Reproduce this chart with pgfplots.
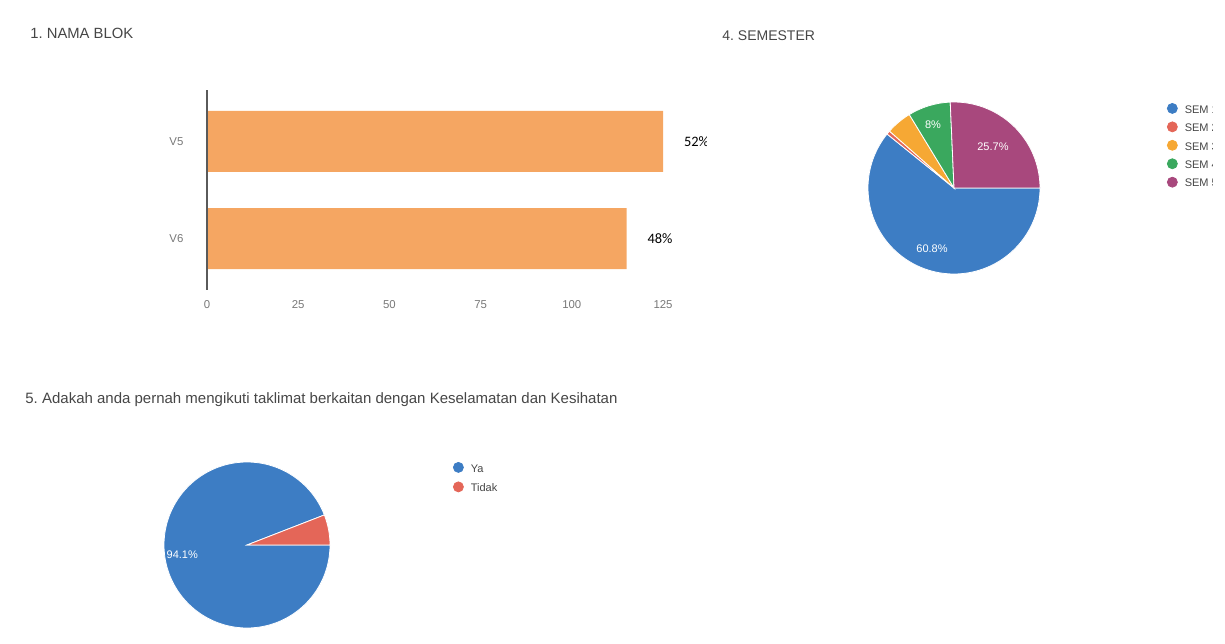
\documentclass[border=0pt]{standalone}
\usepackage{pgfplots}
\pgfplotsset{compat=1.18}
\usepackage{fontspec}
\setmainfont{Liberation Sans}
\newfontfamily\calibri{Carlito}
\frenchspacing

\definecolor{barorange}{RGB}{245,166,98}
\definecolor{pieblue}{RGB}{61,125,196}
\definecolor{piered}{RGB}{228,102,88}
\definecolor{pieorange}{RGB}{246,168,52}
\definecolor{piegreen}{RGB}{58,168,94}
\definecolor{piepurple}{RGB}{168,72,125}
\definecolor{titlegray}{RGB}{70,70,70}
\definecolor{tickgray}{RGB}{120,120,120}
\definecolor{axisgray}{RGB}{90,90,90}

\pgfplotsset{
  pielegend/.style={
    legend image code/.code={\fill (0pt,1.2pt) circle (2.5pt); \path (6pt,0pt);},
    legend style={draw=none, fill=none, inner sep=0pt, outer sep=0pt,
      row sep=2.65pt, font=\fontsize{5.5}{6}\selectfont,
      nodes={inner sep=0pt, text=titlegray}},
    legend cell align=left,
  },
  pieaxis/.style={
    hide axis, scale only axis, clip=false,
    xmin=-1, xmax=1, ymin=-1, ymax=1,
  },
}

\begin{document}
\begin{tikzpicture}
\path[use as bounding box] (0,0) rectangle (612.5pt,321.5pt);

% ---- 1. NAMA BLOK ----
\begin{scope}
\clip (0,0) rectangle (353pt,321.5pt);
\node[anchor=base west, inner sep=0pt, text=titlegray, font=\fontsize{7.4}{9}\selectfont]
  at (15pt,302pt) {1. NAMA BLOK};
\begin{axis}[
  at={(103.5pt,176.5pt)}, anchor=south west,
  width=228pt, height=100pt, scale only axis,
  xbar, bar width=30.5pt,
  xmin=0, xmax=125, ymin=-1.026, ymax=1.026,
  xtick={0,25,50,75,100,125},
  ytick={-0.5,0.5}, yticklabels={V6,V5},
  axis line style={draw=none}, tick style={draw=none},
  ticklabel style={font=\fontsize{5.7}{6}\selectfont, text=tickgray},
  xticklabel style={yshift=-1.8pt},
  yticklabel style={xshift=-4pt},
  /pgf/number format/assume math mode=true,
  clip=false,
  nodes near coords, point meta=explicit symbolic,
  nodes near coords style={font=\calibri\fontsize{7.2}{8}\selectfont, text=black,
    anchor=west, xshift=7pt},
]
\addplot[fill=barorange, draw=none] coordinates {(125,0.5) [52\%] (115,-0.5) [48\%]};
\draw[axisgray, line width=0.6pt] (axis cs:0,-1.026) -- (axis cs:0,1.026);
\end{axis}
\end{scope}

% ---- 4. SEMESTER ----
\node[anchor=base west, inner sep=0pt, text=titlegray, font=\fontsize{7}{9}\selectfont]
  at (361pt,301pt) {4. SEMESTER};
\begin{scope}
\clip (0,0) rectangle (606pt,321.5pt);
\begin{axis}[
  pieaxis, at={(477pt,227.5pt)}, anchor=center,
  width=86pt, height=86pt,
  pielegend,
  legend style={at={(axis description cs:1.738,0.994)}, anchor=north west},
]
\addlegendimage{pieblue}\addlegendentry{SEM 1}
\addlegendimage{piered}\addlegendentry{SEM 2}
\addlegendimage{pieorange}\addlegendentry{SEM 3}
\addlegendimage{piegreen}\addlegendentry{SEM 4}
\addlegendimage{piepurple}\addlegendentry{SEM 5}
\gdef\cum{0}
\foreach \v/\c in {60.8/pieblue, 0.7/piered, 4.8/pieorange, 8/piegreen, 25.7/piepurple}{
  \pgfmathsetmacro\a{-\cum*3.6}
  \pgfmathsetmacro\b{-(\cum+\v)*3.6}
  \edef\slice{\noexpand\fill[\c, draw=white, line width=0.4pt] (axis cs:0,0) -- ++(\a:43pt)
    arc[start angle=\a, end angle=\b, radius=43pt] -- cycle;}
  \slice
  \pgfmathsetmacro\n{\cum+\v}\xdef\cum{\n}
}
\node[text=white, font=\fontsize{5.5}{6}\selectfont] at (axis cs:-0.256,-0.709) {60.8\%};
\node[text=white, font=\fontsize{5.5}{6}\selectfont] at (axis cs:-0.244,0.733) {8\%};
\node[text=white, font=\fontsize{5.5}{6}\selectfont] at (axis cs:0.453,0.477) {25.7\%};
\end{axis}
\end{scope}

% ---- 5. Taklimat ----
\node[anchor=base west, inner sep=0pt, text=titlegray, font=\fontsize{7.5}{9}\selectfont]
  at (12.5pt,120pt) {5. Adakah anda pernah mengikuti taklimat berkaitan dengan Keselamatan dan Kesihatan};
\begin{axis}[
  pieaxis, at={(123.5pt,49pt)}, anchor=center,
  width=83pt, height=83pt,
  pielegend,
  legend style={at={(axis description cs:1.741,1.0)}, anchor=north west, row sep=3.2pt},
]
\addlegendimage{pieblue}\addlegendentry{Ya}
\addlegendimage{piered}\addlegendentry{Tidak}
\gdef\cum{0}
\foreach \v/\c in {94.1/pieblue, 5.9/piered}{
  \pgfmathsetmacro\a{-\cum*3.6}
  \pgfmathsetmacro\b{-(\cum+\v)*3.6}
  \edef\slice{\noexpand\fill[\c, draw=white, line width=0.4pt] (axis cs:0,0) -- ++(\a:41.5pt)
    arc[start angle=\a, end angle=\b, radius=41.5pt] -- cycle;}
  \slice
  \pgfmathsetmacro\n{\cum+\v}\xdef\cum{\n}
}
\node[text=white, font=\fontsize{5.5}{6}\selectfont] at (axis cs:-0.78,-0.12) {94.1\%};
\end{axis}
\end{tikzpicture}
\end{document}
